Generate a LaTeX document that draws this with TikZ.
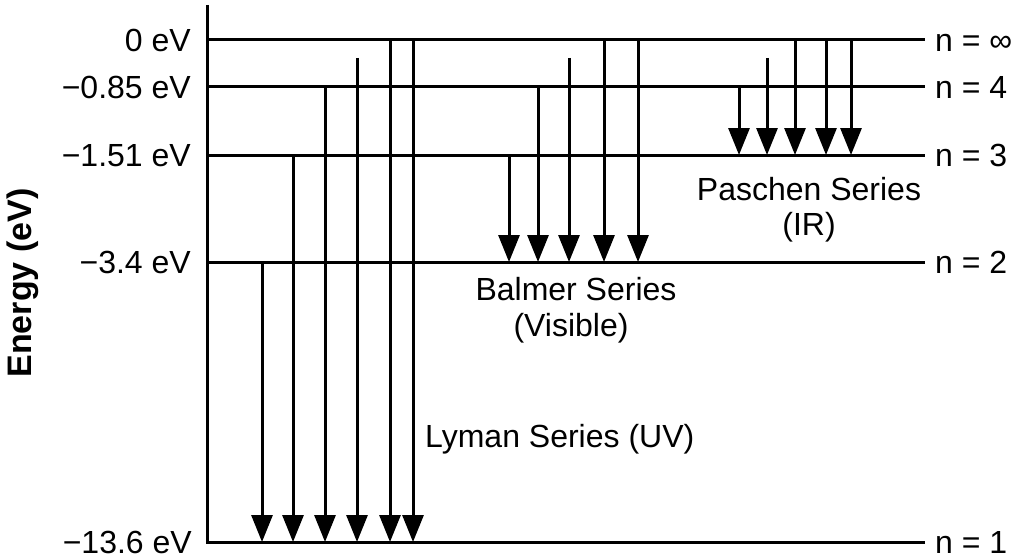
\documentclass[tikz,border=0pt]{standalone}
\usepackage{fontspec}
\setmainfont{Liberation Sans}
\usetikzlibrary{arrows.meta}
\begin{document}
\begin{tikzpicture}[x=1pt,y=-1pt,
  level/.style={line width=3pt},
  trans/.style={line width=3pt,-{Triangle[width=21pt,length=27pt]}},
  elabel/.style={anchor=base east,inner sep=0pt,font=\fontsize{32}{38}\selectfont},
  nlabel/.style={anchor=base west,inner sep=0pt,font=\fontsize{32}{38}\selectfont},
  slabel/.style={anchor=base,inner sep=0pt,font=\fontsize{32}{38}\selectfont}]
\useasboundingbox (0,0) rectangle (1024,559);
% level coordinates at the axis and at the right end
\coordinate (Einf) at (207,40);  \coordinate (Rinf) at (925,40);
\coordinate (E5)   at (207,58);
\coordinate (E4)   at (207,87);  \coordinate (R4)   at (925,87);
\coordinate (E3)   at (207,155); \coordinate (R3)   at (925,155);
\coordinate (E2)   at (207,262); \coordinate (R2)   at (925,262);
\coordinate (E1)   at (207,542); \coordinate (R1)   at (925,542);
\coordinate (Atop) at (207,5);
% axis and levels
\draw[level] (Atop) -- (E1) -- (R1);
\draw[level] (Einf) -- (Rinf);
\draw[level] (E4) -- (R4);
\draw[level] (E3) -- (R3);
\draw[level] (E2) -- (R2);
% Lyman series
\foreach \x/\s in {262/E2,293/E3,325/E4,357/E5,390/Einf,413/Einf}{
  \coordinate (c) at (\x,0);
  \draw[trans] (c |- \s) -- (c |- E1);
}
% Balmer series
\foreach \x/\s in {509/E3,538/E4,569/E5,604/Einf,638/Einf}{
  \coordinate (c) at (\x,0);
  \draw[trans] (c |- \s) -- (c |- E2);
}
% Paschen series
\foreach \x/\s in {739/E4,767/E5,795/Einf,826/Einf,851/Einf}{
  \coordinate (c) at (\x,0);
  \draw[trans] (c |- \s) -- (c |- E3);
}
% energy labels
\node[elabel] (l0) at (191,51.5) {0 eV};
\node[elabel] (l4) at (191,98.5) {−0.85 eV};
\node[elabel] (l3) at (191,166.5) {−1.51 eV};
\node[elabel] (l2) at (191,273.5) {−3.4 eV};
\node[elabel] (l1) at (192,553.5) {−13.6 eV};
% quantum number labels
\node[nlabel] (ninf) at (935,51.5) {n = ∞};
\node[nlabel] (n4) at (935,98.5) {n = 4};
\node[nlabel] (n3) at (935,166.5) {n = 3};
\node[nlabel] (n2) at (935,273.5) {n = 2};
\node[nlabel] (n1) at (935,553.5) {n = 1};
% series labels
\node[slabel] (pas1) at (809,200) {Paschen Series};
\node[slabel] (pas2) at (809,235) {(IR)};
\node[slabel] (bal1) at (576,300) {Balmer Series};
\node[slabel] (bal2) at (571,336) {(Visible)};
\node[anchor=base west,inner sep=0pt,font=\fontsize{32}{38}\selectfont] (lym) at (425,447) {Lyman Series (UV)};
% axis title
\node[anchor=base,inner sep=0pt,rotate=90,font=\fontsize{34}{40}\selectfont\bfseries] (ytitle) at (31,283) {Energy (eV)};
\end{tikzpicture}
\end{document}
